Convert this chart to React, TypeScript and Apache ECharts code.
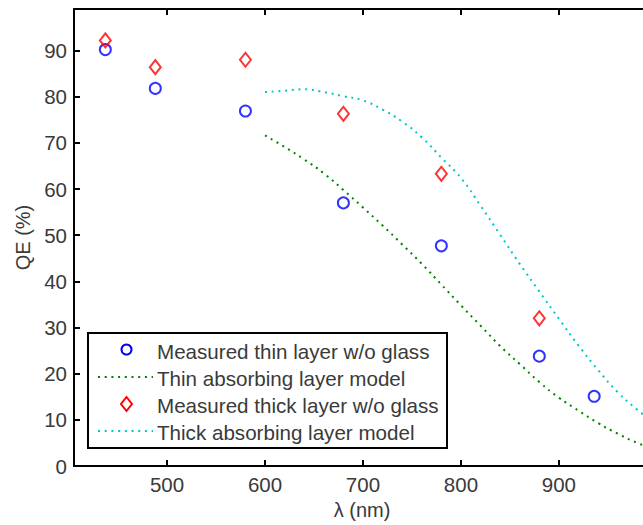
import React, { useEffect, useRef } from "react";
import * as echarts from "echarts";

const thinMeasuredX = [437, 488, 580, 680, 780, 880, 936];
const thinMeasuredY = [90.2, 81.8, 76.9, 57.0, 47.7, 23.8, 15.1];
const thickMeasuredX = [437, 488, 580, 680, 780, 880];
const thickMeasuredY = [92.2, 86.4, 88.0, 76.3, 63.3, 32.0];

const modelX = [600, 620, 640, 660, 680, 700, 720, 740, 760, 780, 800, 820, 840, 860, 880, 900, 920, 940, 960, 980, 1000];
const thinModelY = [71.6, 69.1, 66.4, 63.4, 59.8, 56.0, 52.1, 48.0, 43.8, 39.3, 34.8, 30.4, 26.0, 22.1, 18.2, 14.8, 12.0, 9.3, 7.0, 5.0, 3.4];
const thickModelY = [81.0, 81.3, 81.6, 81.0, 80.1, 79.2, 77.2, 74.6, 71.2, 66.8, 62.4, 56.4, 50.1, 43.8, 37.8, 31.9, 26.1, 20.8, 16.0, 12.2, 9.0];

const xTicks = [500, 600, 700, 800, 900];
const yTicks = [0, 10, 20, 30, 40, 50, 60, 70, 80, 90];

const legendLabels = [
  "Measured thin layer w/o glass",
  "Thin absorbing layer model",
  "Measured thick layer w/o glass",
  "Thick absorbing layer model",
];

const zip = (xs: number[], ys: number[]) => xs.map((x, i) => [x, ys[i]]);

const FONT = "Liberation Sans, Arial, sans-serif";
const TXT = "#3a3a3a";
const BLUE = "#0000ff";
const RED = "#ff0000";
const GREEN = "#008000";
const CYAN = "#00c8c8";

export default function App() {
  const ref = useRef<HTMLDivElement>(null);
  useEffect(() => {
    if (!ref.current) return;
    const chart = echarts.init(ref.current, undefined, { renderer: "svg" });
    const xMin = 405;
    const xMax = 993;
    const legX = 88, legY = 333, rowY = [349.5, 377, 404, 431];
    const mx = 126.5;
    chart.setOption({
      animation: false,
      backgroundColor: "#ffffff",
      grid: { left: 74, top: 9, right: 720 - 650, bottom: 58, containLabel: false },
      xAxis: [
        {
          type: "value",
          min: xMin,
          max: xMax,
          position: "bottom",
          name: "λ (nm)",
          nameLocation: "middle",
          nameGap: 34,
          nameTextStyle: { color: TXT, fontSize: 20, fontFamily: FONT },
          axisLine: { show: true, onZero: false, lineStyle: { color: "#000", width: 2 } },
          axisTick: { show: true, inside: true, length: 6, customValues: xTicks, lineStyle: { color: "#000", width: 2 } },
          axisLabel: { show: true, customValues: xTicks, color: TXT, fontSize: 20.5, fontFamily: FONT, margin: 8 },
          splitLine: { show: false },
        },
        {
          type: "value",
          min: xMin,
          max: xMax,
          position: "top",
          axisLine: { show: true, onZero: false, lineStyle: { color: "#000", width: 2 } },
          axisTick: { show: true, inside: true, length: 6, customValues: xTicks, lineStyle: { color: "#000", width: 2 } },
          axisLabel: { show: false },
          splitLine: { show: false },
        },
      ],
      yAxis: [
        {
          type: "value",
          min: 0,
          max: 99,
          interval: 10,
          position: "left",
          name: "QE (%)",
          nameLocation: "middle",
          nameGap: 38,
          nameTextStyle: { color: TXT, fontSize: 20, fontFamily: FONT },
          axisLine: { show: true, onZero: false, lineStyle: { color: "#000", width: 2 } },
          axisTick: { show: true, inside: true, length: 6, customValues: yTicks, lineStyle: { color: "#000", width: 2 } },
          axisLabel: { show: true, customValues: yTicks, color: TXT, fontSize: 20.5, fontFamily: FONT, margin: 7 },
          splitLine: { show: false },
        },
        {
          type: "value",
          min: 0,
          max: 99,
          interval: 10,
          position: "right",
          axisLine: { show: true, onZero: false, lineStyle: { color: "#000", width: 2 } },
          axisTick: { show: true, inside: true, length: 6, customValues: yTicks, lineStyle: { color: "#000", width: 2 } },
          axisLabel: { show: false },
          splitLine: { show: false },
        },
      ],
      series: [
        {
          name: legendLabels[0],
          type: "scatter",
          data: zip(thinMeasuredX, thinMeasuredY),
          symbol: "circle",
          symbolSize: 11,
          itemStyle: { color: "rgba(0,0,0,0)", borderColor: BLUE, borderWidth: 2 },
          z: 5,
        },
        {
          name: legendLabels[1],
          type: "line",
          data: zip(modelX, thinModelY),
          showSymbol: false,
          smooth: true,
          lineStyle: { color: GREEN, width: 2, type: [2, 4.7] },
          z: 3,
        },
        {
          name: legendLabels[2],
          type: "scatter",
          data: zip(thickMeasuredX, thickMeasuredY),
          symbol: "diamond",
          symbolSize: [11, 14],
          itemStyle: { color: "rgba(0,0,0,0)", borderColor: RED, borderWidth: 2 },
          z: 5,
        },
        {
          name: legendLabels[3],
          type: "line",
          data: zip(modelX, thickModelY),
          showSymbol: false,
          smooth: true,
          lineStyle: { color: CYAN, width: 2, type: [2, 4.7] },
          z: 3,
        },
      ],
      graphic: [
        {
          type: "group",
          z: 100,
          children: [
            {
              type: "rect",
              shape: { x: legX, y: legY, width: 359, height: 115 },
              style: { fill: "#ffffff", stroke: "#000", lineWidth: 2 },
            },
            {
              type: "circle",
              shape: { cx: mx, cy: rowY[0], r: 5 },
              style: { fill: "none", stroke: BLUE, lineWidth: 2 },
            },
            {
              type: "line",
              shape: { x1: 98, y1: rowY[1], x2: 153, y2: rowY[1] },
              style: { stroke: GREEN, lineWidth: 2, lineDash: [2, 4.7] },
            },
            {
              type: "polygon",
              shape: { points: [[mx, rowY[2] - 7], [mx + 5.5, rowY[2]], [mx, rowY[2] + 7], [mx - 5.5, rowY[2]]] },
              style: { fill: "none", stroke: RED, lineWidth: 2 },
            },
            {
              type: "line",
              shape: { x1: 98, y1: rowY[3], x2: 153, y2: rowY[3] },
              style: { stroke: CYAN, lineWidth: 2, lineDash: [2, 4.7] },
            },
            ...legendLabels.map((t, i) => ({
              type: "text",
              x: 157,
              y: rowY[i] + 1.5,
              style: { text: t, fill: TXT, fontSize: 20.6, fontFamily: FONT, verticalAlign: "middle", align: "left" },
            })),
          ],
        },
      ],
    });
    return () => chart.dispose();
  }, []);
  return (
    <div style={{ position: "fixed", left: 0, top: 0, width: 643, height: 525, overflow: "hidden", background: "#fff" }}>
      <div ref={ref} style={{ width: 720, height: 525 }} />
    </div>
  );
}
